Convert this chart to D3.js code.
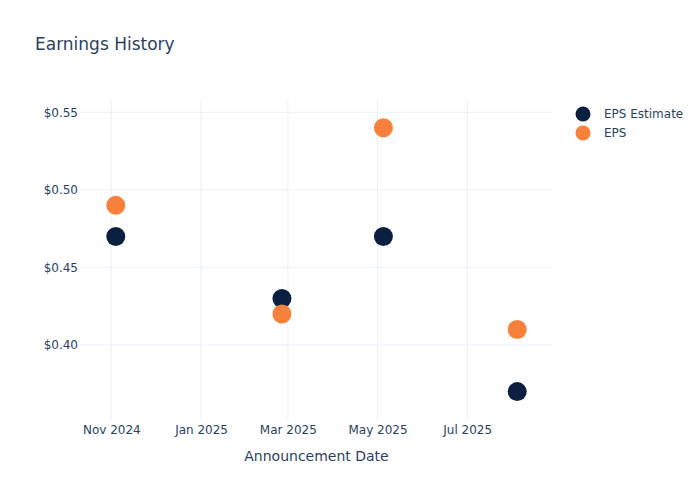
<!DOCTYPE html>
<html>
<head>
<meta charset="utf-8">
<script src="https://cdn.jsdelivr.net/npm/d3@7"></script>
<style>
html,body{margin:0;padding:0;background:#fff;}
text{font-family:"DejaVu Sans",sans-serif;}
</style>
</head>
<body>
<svg id="chart" width="700" height="500"></svg>
<script>
const dates = ["2024-11-04", "2025-02-25", "2025-05-05", "2025-08-04"];
const epsEstimate = [0.47, 0.43, 0.47, 0.37];
const eps = [0.49, 0.42, 0.54, 0.41];
const seriesNames = ["EPS Estimate", "EPS"];
const seriesColors = ["#0b1f40", "#f7803a"];
const yTicks = [0.40, 0.45, 0.50, 0.55];
const xTickDates = ["2024-11-01", "2025-01-01", "2025-03-01", "2025-05-01", "2025-07-01"];

const parse = d3.utcParse("%Y-%m-%d");
const svg = d3.select("#chart");
const m = {l: 80, r: 147, t: 100, b: 80};
const W = 700, H = 500;
const pw = W - m.l - m.r, ph = H - m.t - m.b;

const x = d3.scaleUtc()
  .domain([new Date(Date.UTC(2024, 9, 10, 16)), new Date(Date.UTC(2025, 7, 28, 8))])
  .range([m.l, m.l + pw]);
const y = d3.scaleLinear().domain([0.3517, 0.5579]).range([m.t + ph, m.t]);

const textColor = "#2a3f5f";
const gridColor = "#ebf0f8";

// grid
const g = svg.append("g");
g.selectAll("line.vx").data(xTickDates.map(parse)).join("line")
  .attr("x1", d => x(d)).attr("x2", d => x(d))
  .attr("y1", m.t).attr("y2", m.t + ph)
  .attr("stroke", gridColor).attr("stroke-width", 1);
g.selectAll("line.hy").data(yTicks).join("line")
  .attr("x1", m.l).attr("x2", m.l + pw)
  .attr("y1", d => y(d)).attr("y2", d => y(d))
  .attr("stroke", gridColor).attr("stroke-width", 1);

// axes
const xAxis = d3.axisBottom(x).tickValues(xTickDates.map(parse))
  .tickFormat(d3.utcFormat("%b %Y")).tickSize(0).tickPadding(5);
const xg = svg.append("g").attr("transform", `translate(0,${m.t + ph})`).call(xAxis);
xg.select(".domain").remove();
xg.selectAll("text").attr("fill", textColor).style("font-size", "12px");

const yAxis = d3.axisLeft(y).tickValues(yTicks)
  .tickFormat(d => "$" + d3.format(".2f")(d)).tickSize(0).tickPadding(2);
const yg = svg.append("g").attr("transform", `translate(${m.l},0)`).call(yAxis);
yg.select(".domain").remove();
yg.selectAll("text").attr("fill", textColor).style("font-size", "12px");

// points
const series = [epsEstimate, eps];
series.forEach((vals, i) => {
  svg.append("g").selectAll("circle").data(vals).join("circle")
    .attr("cx", (d, j) => x(parse(dates[j])))
    .attr("cy", d => y(d))
    .attr("r", 9.5)
    .attr("fill", seriesColors[i]);
});

// title
svg.append("text").attr("x", 35).attr("y", 50)
  .attr("fill", textColor).style("font-size", "17px").text("Earnings History");

// axis title
svg.append("text").attr("x", m.l + pw / 2).attr("y", 461)
  .attr("text-anchor", "middle").attr("fill", textColor)
  .style("font-size", "14px").text("Announcement Date");

// legend
const lg = svg.append("g");
seriesNames.forEach((name, i) => {
  const ly = 114 + i * 19;
  lg.append("circle").attr("cx", 583).attr("cy", ly).attr("r", 7.5).attr("fill", seriesColors[i]);
  lg.append("text").attr("x", 604).attr("y", ly + 4).attr("fill", textColor)
    .style("font-size", "12px").text(name);
});
</script>
</body>
</html>
